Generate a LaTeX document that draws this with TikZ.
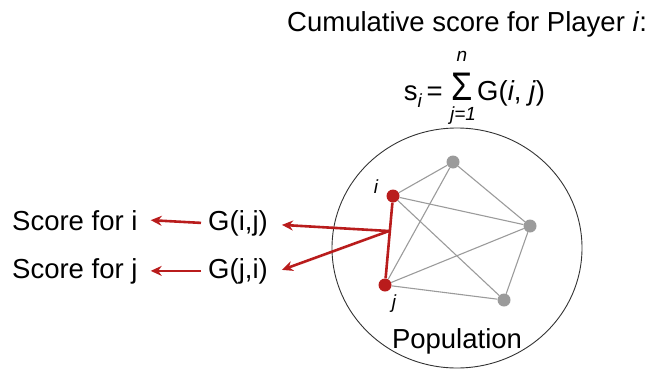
\documentclass[tikz,border=0pt]{standalone}
\usepackage{fontspec}
\setmainfont{Liberation Sans}
\usetikzlibrary{arrows.meta}
\definecolor{redc}{RGB}{185,28,28}
\definecolor{grayc}{RGB}{155,155,155}
\tikzset{
  big/.style={font=\fontsize{27.5}{32}\selectfont, inner sep=0pt},
  lab/.style={font=\fontsize{19}{22}\selectfont\itshape, inner sep=0pt},
  reddot/.style={circle, fill=redc, minimum size=13pt, inner sep=0pt},
  graydot/.style={circle, fill=grayc, minimum size=13pt, inner sep=0pt},
  edge/.style={grayc, line width=1.1pt},
  redline/.style={redc, line width=2.6pt},
  redarrow/.style={redc, line width=2.6pt, -{Stealth[length=11pt,width=10pt]}},
}
\begin{document}
\begin{tikzpicture}[x=1pt,y=-1pt]
\useasboundingbox (0,0) rectangle (660,369);
% title
\node[big, anchor=base west] (title) at (287,31) {Cumulative score for Player \textit{i}:};
% formula
\node[big, anchor=base east] (slhs) at (443,100) {s\raisebox{-7pt}{\fontsize{19}{22}\selectfont\textit{i}}\,=};
\node[big, anchor=base, text depth=0pt] (sig) at (462,100) {\scalebox{1.25}[1.45]{Σ}};
\node[lab] (nup) at (462,56) {n};
\node[lab, anchor=north] (jlow) at (463,107) {j=1};
\node[big, anchor=base west] (grhs) at (477,100) {G(\textit{i}, \textit{j})};
% population
\draw[line width=0.9pt, black!80] (457,248) ellipse [x radius=125, y radius=120];
\node[big, anchor=base] (poplabel) at (457,348) {Population};
% nodes
\node[graydot] (top) at (453,162) {};
\node[graydot] (right) at (530,226) {};
\node[graydot] (bot) at (504,300) {};
\node[reddot] (pi) at (393,196) {};
\node[reddot] (pj) at (385,285) {};
\node[lab] (li) at (376,187) {i};
\node[lab] (lj) at (394,304) {j};
% gray edges
\draw[edge] (pi) -- (top);
\draw[edge] (pi) -- (right);
\draw[edge] (pi) -- (bot);
\draw[edge] (top) -- (right);
\draw[edge] (top) -- (pj);
\draw[edge] (right) -- (pj);
\draw[edge] (right) -- (bot);
\draw[edge] (pj) -- (bot);
% red edge and arrows
\draw[redline] (pi) -- (pj);
\coordinate (junc) at (389,231);
\node[big, anchor=base west] (gij) at (208,230) {G(i,j)};
\node[big, anchor=base west] (gji) at (208,278) {G(j,i)};
\node[big, anchor=base west] (si) at (12,230) {Score for i};
\node[big, anchor=base west] (sj) at (12,278) {Score for j};
\draw[redarrow] (junc) -- ([xshift=14pt,yshift=-2pt]gij.east);
\draw[redarrow] (junc) -- ([xshift=14pt,yshift=1pt]gji.east);
\draw[redarrow] ([xshift=-7pt]gij.west) -- ([xshift=13pt]si.east);
\draw[redarrow] ([xshift=-7pt]gji.west) -- ([xshift=13pt]sj.east);
\end{tikzpicture}
\end{document}
